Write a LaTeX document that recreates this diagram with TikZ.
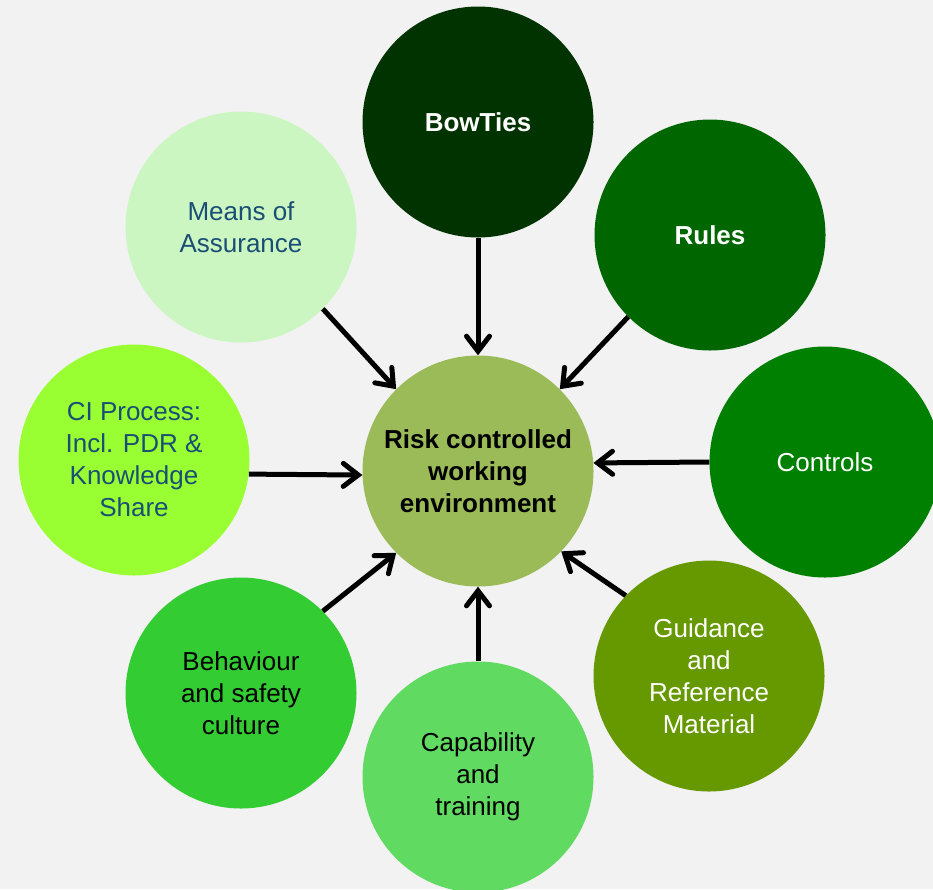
\documentclass[tikz,border=0pt]{standalone}
\usepackage{fontspec}
\setmainfont{Liberation Sans}
\usetikzlibrary{arrows.meta}

\definecolor{bgGray}{HTML}{F2F2F2}
\definecolor{riskGreen}{HTML}{9BBB59}
\definecolor{bowGreen}{HTML}{003300}
\definecolor{rulesGreen}{HTML}{006600}
\definecolor{controlsGreen}{HTML}{008000}
\definecolor{guideGreen}{HTML}{669900}
\definecolor{capGreen}{HTML}{60DA60}
\definecolor{behavGreen}{HTML}{33CC33}
\definecolor{ciGreen}{HTML}{99FF33}
\definecolor{meansGreen}{HTML}{CBF6C1}
\definecolor{labelBlue}{HTML}{1A4E74}

\begin{document}
\begin{tikzpicture}[x=1pt, y=-1pt,
		bubble/.style={circle, minimum size=231pt, inner sep=0pt, align=center,
			font=\fontsize{26}{32}\selectfont},
		boldbubble/.style={bubble, font=\fontsize{26}{32}\selectfont\bfseries},
		feed/.style={line width=5pt,
			-{Straight Barb[length=15pt, width=23pt, line cap=round]}}]
		\useasboundingbox (0,0) rectangle (933,889);
		\fill[bgGray] (0,0) rectangle (933,889);
		% centre
		\node[boldbubble, fill=riskGreen] (risk) at (478,471) {Risk controlled\\working\\environment};
		% ring
		\node[boldbubble, fill=bowGreen, text=white] (bow) at (478,122) {BowTies};
		\node[boldbubble, fill=rulesGreen, text=white] (rules) at (710,235) {Rules};
		\node[bubble, fill=controlsGreen, text=white] (controls) at (825,462) {Controls};
		\node[bubble, fill=guideGreen, text=white] (guide) at (709,676) {Guidance\\and\\Reference\\Material};
		\node[bubble, fill=capGreen] (cap) at (478,777) {Capability\\and\\training};
		\node[bubble, fill=behavGreen] (behav) at (241,693) {Behaviour\\and safety\\culture};
		\node[bubble, fill=ciGreen, text=labelBlue] (ci) at (134,460) {CI Process:\\Incl. PDR \&\\Knowledge\\Share};
		\node[bubble, fill=meansGreen, text=labelBlue] (means) at (241,227) {Means of\\Assurance};
		% arrows
		\draw[feed] (bow.south) -- (risk.north);
		\draw[feed] (rules.225) -- (risk.45);
		\draw[feed] (controls.west) -- (risk.4);
		\draw[feed] (guide.136) -- (risk.-44);
		\draw[feed] (cap.north) -- (risk.south);
		\draw[feed] (behav.45) -- (risk.225);
		\draw[feed] (ci.-7) -- (risk.182);
		\draw[feed] (means.-45) -- (risk.135);
\end{tikzpicture}
\end{document}
